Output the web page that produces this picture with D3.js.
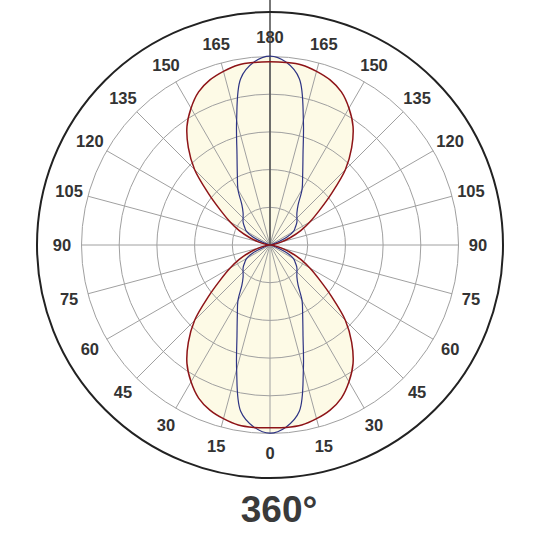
<!DOCTYPE html>
<html>
  <head>
    <script src="https://d3js.org/d3.v7.min.js"></script>
    <style>
      body { margin: 0; background: #fff; }
      text { font-family: "Liberation Sans", Arial, sans-serif; font-weight: bold; fill: #333; }
    </style>
  </head>
  <body>
    <script>

      // gamma angles (0 = straight down, 180 = straight up)
      var gammaAngles = [0, 5, 10, 15, 20, 25, 30, 35, 40, 45, 50, 55, 60, 65, 70, 75, 80, 85, 90,
                         95, 100, 105, 110, 115, 120, 125, 130, 135, 140, 145, 150, 155, 160, 165, 170, 175, 180];

      // intensity curves (outer ring = 500)
      var redValues = [485, 486, 485, 477, 466, 448, 419, 384, 337, 283, 214, 160, 122, 90, 58, 32, 13, 3, 0,
                       3, 13, 32, 58, 90, 122, 160, 214, 283, 337, 384, 419, 448, 466, 477, 485, 486, 486];
      var blueValues = [499, 485, 448, 342, 256, 205, 170, 130, 111, 101, 93, 82, 72, 50, 19, 3, 0, 0, 0,
                        0, 0, 3, 19, 50, 72, 82, 93, 101, 111, 130, 170, 205, 256, 342, 448, 487, 501];

      var ringValues = [100, 200, 300, 400, 500];
      var labelAngles = [0, 15, 30, 45, 60, 75, 90, 105, 120, 135, 150, 165, 180];
      var title = "360°";

      var w = 540;
      var h = 540;
      var cx = 270;
      var cy = 245;
      var rGrid = 188.5;
      var rLabel = 208;
      var rFrame = 233;

      var svg = d3.select("body")
        .append("svg")
        .attr("width", w)
        .attr("height", h);

      var r_scale = d3.scaleLinear()
        .domain([0, 500])
        .range([0, rGrid]);

      var g = svg.append("g")
        .attr("transform", "translate(" + cx + "," + cy + ")");

      // build closed outline: right side 0..180, left side back down
      function outline(values) {
        var pts = [];
        gammaAngles.forEach(function(a, i) {
          pts.push([Math.PI - a * Math.PI / 180, r_scale(values[i])]);
        });
        for (var i = gammaAngles.length - 2; i > 0; i--) {
          pts.push([Math.PI + gammaAngles[i] * Math.PI / 180, r_scale(values[i])]);
        }
        return pts;
      }

      var line = d3.lineRadial()
        .angle(function(d) { return d[0]; })
        .radius(function(d) { return d[1]; })
        .curve(d3.curveCatmullRomClosed.alpha(0.5));

      // fills
      g.append("path")
        .attr("d", line(outline(redValues)))
        .attr("fill", "#fdfae6")
        .attr("stroke", "none");
      g.append("path")
        .attr("d", line(outline(blueValues)))
        .attr("fill", "#fdfae6")
        .attr("stroke", "none");

      // grid rings
      g.selectAll("circle.ring")
        .data(ringValues)
        .enter()
        .append("circle")
        .attr("class", "ring")
        .attr("r", function(d) { return r_scale(d); })
        .attr("fill", "none")
        .attr("stroke", "#a0a0a0")
        .attr("stroke-width", 1);

      // spokes every 15 degrees on both sides
      var spokes = [];
      labelAngles.forEach(function(a) {
        spokes.push(a);
        if (a > 0 && a < 180) spokes.push(-a);
      });
      g.selectAll("line.spoke")
        .data(spokes)
        .enter()
        .append("line")
        .attr("class", "spoke")
        .attr("x1", 0)
        .attr("y1", 0)
        .attr("x2", function(d) { return rGrid * Math.sin(d * Math.PI / 180); })
        .attr("y2", function(d) { return rGrid * Math.cos(d * Math.PI / 180); })
        .attr("stroke", "#a0a0a0")
        .attr("stroke-width", 1);

      // dark vertical line from top edge to centre
      g.append("line")
        .attr("x1", 0)
        .attr("y1", -cy)
        .attr("x2", 0)
        .attr("y2", 0)
        .attr("stroke", "#555")
        .attr("stroke-width", 1.6);

      // curves
      g.append("path")
        .attr("d", line(outline(blueValues)))
        .attr("fill", "none")
        .attr("stroke", "#2d3383")
        .attr("stroke-width", 1.2);
      g.append("path")
        .attr("d", line(outline(redValues)))
        .attr("fill", "none")
        .attr("stroke", "#8e1418")
        .attr("stroke-width", 1.5);

      // outer frame
      g.append("circle")
        .attr("r", rFrame)
        .attr("fill", "none")
        .attr("stroke", "#222")
        .attr("stroke-width", 2);

      // angle labels on both sides
      var labels = [];
      labelAngles.forEach(function(a) {
        labels.push({a: a, side: 1});
        if (a > 0 && a < 180) labels.push({a: a, side: -1});
      });
      g.selectAll("text.lbl")
        .data(labels)
        .enter()
        .append("text")
        .attr("class", "lbl")
        .attr("x", function(d) { return d.side * rLabel * Math.sin(d.a * Math.PI / 180); })
        .attr("y", function(d) { return rLabel * Math.cos(d.a * Math.PI / 180); })
        .attr("dy", "0.36em")
        .attr("text-anchor", "middle")
        .style("font-size", "16.5px")
        .text(function(d) { return d.a; });

      // title
      svg.append("text")
        .attr("x", 279)
        .attr("y", 522)
        .attr("text-anchor", "middle")
        .style("font-size", "37px")
        .style("fill", "#3a3a3a")
        .text(title);

    </script>
  </body>
</html>
